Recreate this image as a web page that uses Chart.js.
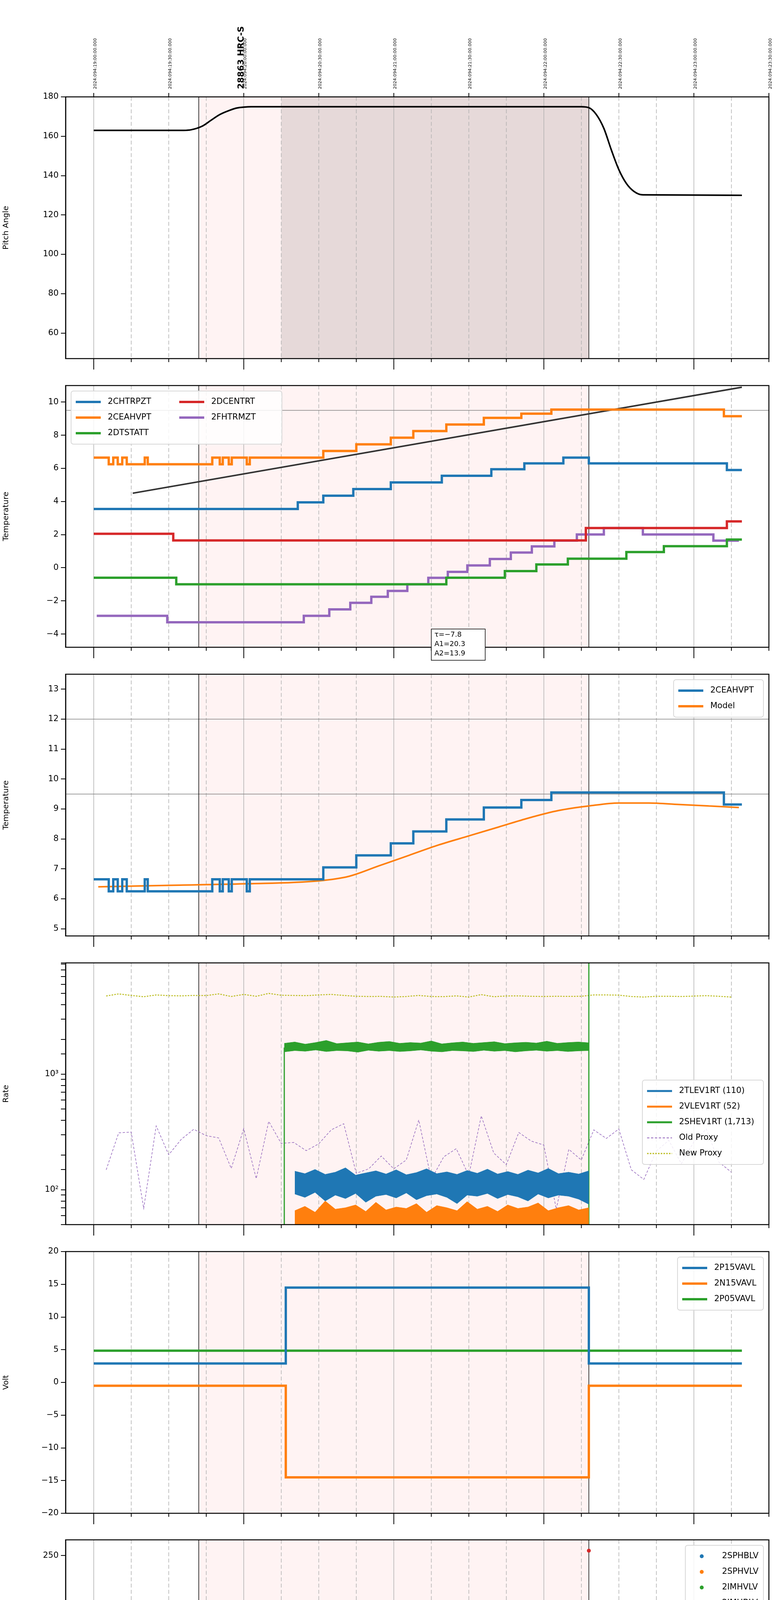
<!DOCTYPE html>
<html>
<head>
<meta charset="utf-8">
<script src="https://cdn.jsdelivr.net/npm/chart.js@4.4.0/dist/chart.umd.min.js"></script>
<style>
body { margin:0; background:#fff; width:2000px; height:6200px; position:relative; overflow:hidden; }
canvas { position:absolute; left:0; }
</style>
</head>
<body>
<script>
// ---- data (time in decimal hours, local) ----
var pitchT = [15.0, 15.6, 15.65, 15.72, 15.78, 15.84, 15.9, 15.95, 16.0, 16.05, 18.25, 18.3, 18.35, 18.4, 18.45, 18.5, 18.55, 18.6, 18.66, 19.32];
var pitchV = [163, 163, 163.3, 165, 168, 171, 173, 174.3, 174.8, 175, 175, 174.5, 171, 164, 153, 143, 136, 132, 130.2, 130];

var chtrT = [15.0, 16.36, 16.53, 16.73, 16.98, 17.32, 17.65, 17.87, 18.13, 18.3, 19.22, 19.32];
var chtrV = [3.55, 3.95, 4.35, 4.75, 5.15, 5.55, 5.95, 6.3, 6.65, 6.3, 5.9, 5.9];
var ceaT = [15.0, 15.10, 15.13, 15.16, 15.19, 15.22, 15.34, 15.36, 15.79, 15.84, 15.86, 15.90, 15.92, 16.02, 16.04, 16.53, 16.75, 16.98, 17.13, 17.35, 17.6, 17.85, 18.05, 19.2, 19.32];
var ceaV = [6.65, 6.25, 6.65, 6.25, 6.65, 6.25, 6.65, 6.25, 6.65, 6.25, 6.65, 6.25, 6.65, 6.25, 6.65, 7.05, 7.45, 7.85, 8.25, 8.65, 9.05, 9.3, 9.55, 9.15, 9.15];
var dtsT = [15.0, 15.55, 17.35, 17.74, 17.95, 18.16, 18.55, 18.8, 19.22, 19.32];
var dtsV = [-0.6, -1.0, -0.6, -0.2, 0.2, 0.55, 0.95, 1.3, 1.7, 1.7];
var dcenT = [15.0, 15.53, 18.28, 19.22, 19.32];
var dcenV = [2.05, 1.65, 2.4, 2.8, 2.8];
var fhT = [15.02, 15.49, 16.40, 16.57, 16.71, 16.85, 16.96, 17.09, 17.23, 17.36, 17.49, 17.64, 17.78, 17.92, 18.07, 18.22, 18.40, 18.66, 19.13, 19.30];
var fhV = [-2.9, -3.29, -2.9, -2.51, -2.12, -1.75, -1.4, -1.0, -0.61, -0.25, 0.14, 0.53, 0.92, 1.29, 1.64, 2.01, 2.4, 2.01, 1.64, 1.64];
var fitT = [15.26, 19.32];
var fitV = [4.5, 10.9];

var modelT = [15.03, 15.5, 16.0, 16.5, 16.7, 16.9, 17.1, 17.3, 17.5, 17.7, 17.9, 18.1, 18.3, 18.5, 18.7, 18.9, 19.1, 19.3];
var modelV = [6.4, 6.45, 6.5, 6.6, 6.75, 7.1, 7.45, 7.8, 8.1, 8.4, 8.7, 8.95, 9.1, 9.2, 9.2, 9.15, 9.1, 9.05];

var proxyT0 = 15.083, proxyStep = 5 / 60;
var oldProxy = [149, 311, 316, 69, 357, 201, 273, 334, 294, 281, 153, 338, 125, 391, 252, 257, 218, 250, 330, 373,
  139, 152, 196, 152, 181, 402, 123, 193, 227, 133, 436, 208, 165, 313, 264, 244, 68, 224, 181, 330,
  278, 336, 149, 123, 216, 268, 168, 260, 336, 174, 142];
var newProxy = [4750, 4950, 4800, 4680, 4850, 4780, 4760, 4800, 4790, 4950, 4700, 4900, 4720, 5000, 4820, 4800, 4780, 4850, 4900, 4800,
  4720, 4700, 4710, 4650, 4700, 4800, 4700, 4690, 4760, 4650, 4880, 4680, 4750, 4760, 4720, 4700, 4720, 4710, 4720, 4850,
  4850, 4830, 4700, 4650, 4720, 4720, 4700, 4740, 4780, 4720, 4650];
var sheT = [16.27, 18.30];
var sheHi = [1850, 1900, 1820, 1880, 1960, 1840, 1870, 1900, 1830, 1890, 1920, 1850, 1880, 1860, 1940, 1830, 1870, 1900, 1850, 1880, 1910, 1840, 1870, 1890, 1860, 1930, 1850, 1880, 1900, 1870];
var sheLo = [1560, 1600, 1580, 1620, 1570, 1600, 1590, 1550, 1610, 1580, 1600, 1570, 1590, 1620, 1580, 1560, 1600, 1590, 1570, 1610, 1580, 1600, 1560, 1590, 1610, 1580, 1600, 1570, 1590, 1600];
var tleT = [16.34, 18.30];
var tleHi = [145, 138, 150, 136, 142, 155, 134, 140, 146, 137, 149, 135, 141, 152, 138, 143, 136, 147, 139, 151, 137, 144, 136, 148, 140, 153, 138, 142, 137, 146];
var tleLo = [92, 86, 95, 80, 90, 84, 93, 78, 88, 91, 85, 94, 82, 89, 92, 86, 76, 90, 88, 93, 84, 91, 87, 80, 92, 85, 90, 88, 83, 75];
var vleHi = [66, 72, 64, 80, 68, 70, 74, 65, 78, 67, 71, 69, 76, 64, 73, 70, 66, 79, 68, 72, 65, 74, 69, 71, 77, 66, 70, 73, 67, 70];

var p15T = [15.0, 16.28, 18.30, 19.32];
var p15V = [2.9, 14.5, 2.9, 2.9];
var n15V = [-0.5, -14.5, -0.5, -0.5];
var p05T = [15.0, 19.32];
var p05V = [4.85, 4.85];

var hvBlueT = [16.295, 16.30, 16.305, 16.31, 16.315, 16.32, 18.30];
var hvBlueV = [117, 102, 97, 92, 87, 82, 77];
var hvOrangeT = [16.293, 16.30, 16.305, 16.31, 16.315, 16.32, 16.325, 16.86, 16.89, 17.30, 17.41];
var hvOrangeV = [127, 96, 91, 85, 80, 75, 71, 127, 127, 127, 127];
var hvFlatT = [16.32, 18.30];
var hvRedT = [18.30];
var hvRedV = [255];

var spinT = [16.28, 16.83, 17.74, 18.29];
var spinV = [2.67, 3.17, 3.61, 3.61];
var sphvT = [16.27, 16.39, 16.47, 16.55, 16.62, 16.70, 16.78, 16.86, 16.96, 17.06, 17.19, 17.33, 17.48, 17.63, 17.81, 18.0, 18.2, 18.29, 18.295];
var sphvV = [14.64, 15.03, 15.39, 15.69, 16.0, 16.36, 16.69, 17.06, 17.44, 17.75, 18.14, 18.5, 18.86, 19.19, 19.5, 19.92, 20.28, 0, 0];
var iminT = [16.28, 18.29];
var iminV = [1.72, 1.72];
var imhvT = [16.27, 16.68, 16.98, 17.24, 17.49, 17.72, 17.97, 18.21, 18.29];
var imhvV = [14.0, 14.33, 14.64, 15.0, 15.31, 15.67, 16.0, 16.39, 16.39];
// [start, end, low, high] for the dense toggling intervals
var blk7Orange = [[16.80, 16.96, 9.03, 17.0], [17.29, 17.42, 9.64, 18.4]];
var blk7Red = [[16.80, 16.96, 14.33, 17.14], [17.29, 17.42, 14.9, 18.53], [18.295, 18.32, 0, 21]];
var blk7Blue = [[16.85, 16.96, 0, 3.17], [17.29, 17.42, 0, 3.17]];
var blk7Green = [[16.85, 16.96, 0, 3.2], [17.29, 17.42, 0, 3.2]];

var fradT = [15.84, 16.45, 16.57, 16.71, 16.83, 16.96, 17.09, 17.24, 17.39, 17.52, 17.68, 17.83, 17.99, 18.15, 18.32, 18.68, 19.0, 19.30];
var fradV = [-4.81, -4.43, -4.05, -3.66, -3.29, -2.9, -2.51, -2.12, -1.76, -1.37, -1.0, -0.61, -0.25, 0.14, 0.53, 0.14, -0.25, -0.25];
var fepT = [16.27, 16.34, 16.38, 16.44, 16.51, 16.59, 16.71, 16.83, 16.95, 17.07, 17.22, 17.36, 17.51, 17.67, 17.84, 18.01, 18.19, 18.29, 18.295];
var fepV = [-3.99, -3.51, -3.11, -2.66, -1.82, -1.4, -0.98, -0.55, -0.1, 0.37, 0.81, 1.27, 1.72, 2.2, 2.66, 3.17, 3.63, -6, -6];
var fe00T = [16.27, 16.41, 16.51, 16.61, 16.69, 16.78, 16.96, 17.06, 17.16, 17.26, 17.36, 17.47, 17.57, 17.69, 17.80, 17.91, 18.03, 18.14, 18.26, 18.29];
var fe00V = [-3.99, -3.65, -3.29, -2.99, -2.63, -2.33, -1.64, -1.34, -0.95, -0.61, -0.31, 0.01, 0.35, 0.65, 0.99, 1.31, 1.61, 1.98, 2.28, 2.28];
var blk8Red = [[16.80, 16.96, -6, 4], [17.29, 17.42, -6, 4], [18.295, 18.32, -6, 4]];
var blk8Green = [[16.85, 16.96, -6, -0.1], [17.29, 17.42, -6, 0.81]];

// tick values per panel
var ticksPitch = [60, 80, 100, 120, 140, 160, 180];
var ticksTemp = [-4, -2, 0, 2, 4, 6, 8, 10];
var ticksCea = [5, 6, 7, 8, 9, 10, 11, 12, 13];
var ticksVolt = [-20, -15, -10, -5, 0, 5, 10, 15, 20];
var ticksHv = [0, 50, 100, 150, 200, 250];
var ticksDet = [2.5, 5, 7.5, 10, 12.5, 15, 17.5, 20];
var ticksFea = [-5, -4, -3, -2, -1, 0, 1, 2, 3];

// ---- layout / helpers ----
var XMIN = 14.8125, XMAX = 19.5;
var PANEL_TOP = [248, 987, 1726, 2465, 3204, 3942, 4681, 5420];
var PLOT_H = 670;
var C = {blue:'#1f77b4', orange:'#ff7f0e', green:'#2ca02c', red:'#d62728', purple:'#9467bd', olive:'#bcbd22'};
var FONT = 'DejaVu Sans';

function pts(t, v) { return t.map(function (x, i) { return {x: x, y: v[i]}; }); }
function spread(t0, t1, v) {
  return v.map(function (y, i) { return {x: t0 + (t1 - t0) * i / (v.length - 1), y: y}; });
}
function proxyPts(v) { return v.map(function (y, i) { return {x: proxyT0 + proxyStep * i, y: y}; }); }
function step(t, v, color, w) {
  return {data: pts(t, v), borderColor: color, borderWidth: w || 6, stepped: true, pointRadius: 0, fill: false};
}
function blocks(list, color) {
  return list.map(function (b) {
    return {data: [{x: b[0], y: b[3]}, {x: b[1], y: b[3]}], borderColor: color, borderWidth: 0,
      backgroundColor: color, pointRadius: 0, fill: {target: {value: b[2]}}};
  });
}
function minus(v) { return String(v).replace('-', '\u2212'); }

var framePlugin = {
  id: 'frame',
  beforeDatasetsDraw: function (chart, args, o) {
    var ctx = chart.ctx, a = chart.chartArea, xs = chart.scales.x, ys = chart.scales.y;
    ctx.save();
    ctx.beginPath(); ctx.rect(a.left, a.top, a.right - a.left, a.bottom - a.top); ctx.clip();
    (o.shade || []).forEach(function (s) {
      ctx.fillStyle = s[2];
      var x0 = xs.getPixelForValue(s[0]), x1 = xs.getPixelForValue(s[1]);
      ctx.fillRect(x0, a.top, x1 - x0, a.bottom - a.top);
    });
    for (var m = 15 * 60; m <= 19.5 * 60; m += 15) {
      var x = xs.getPixelForValue(m / 60);
      ctx.beginPath();
      ctx.strokeStyle = '#b0b0b0';
      ctx.lineWidth = 1.5;
      ctx.setLineDash(m % 60 === 0 ? [] : [10, 6]);
      ctx.moveTo(x, a.top); ctx.lineTo(x, a.bottom); ctx.stroke();
    }
    ctx.setLineDash([]);
    (o.hlines || []).forEach(function (h) {
      var y = ys.getPixelForValue(h);
      ctx.beginPath(); ctx.strokeStyle = '#808080'; ctx.lineWidth = 1.5;
      ctx.moveTo(a.left, y); ctx.lineTo(a.right, y); ctx.stroke();
    });
    [15.70, 18.30].forEach(function (t) {
      var x = xs.getPixelForValue(t);
      ctx.beginPath(); ctx.strokeStyle = '#000'; ctx.lineWidth = 1.5;
      ctx.moveTo(x, a.top); ctx.lineTo(x, a.bottom); ctx.stroke();
    });
    ctx.restore();
  },
  afterDatasetsDraw: function (chart, args, o) {
    var ctx = chart.ctx, a = chart.chartArea, xs = chart.scales.x;
    ctx.save();
    ctx.strokeStyle = '#000'; ctx.lineWidth = 2.5;
    ctx.strokeRect(a.left, a.top, a.right - a.left, a.bottom - a.top);
    // x ticks
    for (var m = 15 * 60; m <= 19.5 * 60; m += 15) {
      var x = xs.getPixelForValue(m / 60), major = m % 60 === 0;
      ctx.beginPath(); ctx.lineWidth = 2;
      ctx.moveTo(x, a.bottom); ctx.lineTo(x, a.bottom + (major ? 28 : 9)); ctx.stroke();
      if (o.xLabels) {
        ctx.fillStyle = '#000'; ctx.textAlign = 'center'; ctx.textBaseline = 'middle';
        if (major) {
          ctx.font = '22px ' + FONT;
          ctx.fillText((m / 60) + 'h', x, a.bottom + 48);
        } else {
          ctx.font = '12px ' + FONT;
          ctx.fillText(String(m % 60), x, a.bottom + 16);
        }
      }
    }
    if (o.xLabels) {
      ctx.font = '24px ' + FONT; ctx.textAlign = 'center';
      ctx.fillText('2024-04-03 (094)', (a.left + a.right) / 2, a.bottom + 86);
    }
    if (o.topLabels) {
      for (var m2 = 15 * 60; m2 <= 19.5 * 60; m2 += 30) {
        var xt = xs.getPixelForValue(m2 / 60);
        ctx.beginPath(); ctx.lineWidth = 2;
        ctx.moveTo(xt, a.top); ctx.lineTo(xt, a.top - 10); ctx.stroke();
        var hh = Math.floor(m2 / 60) + 4, mm = m2 % 60;
        var lbl = '2024:094:' + hh + ':' + (mm ? '30' : '00') + ':00.000';
        ctx.save();
        ctx.translate(xt + 4, a.top - 20); ctx.rotate(-Math.PI / 2);
        ctx.font = '11px ' + FONT; ctx.fillStyle = '#000'; ctx.textAlign = 'left'; ctx.textBaseline = 'middle';
        ctx.fillText(lbl, 0, 0);
        ctx.restore();
      }
      var xb = xs.getPixelForValue(15.985);
      ctx.save();
      ctx.translate(xb, a.top - 20); ctx.rotate(-Math.PI / 2);
      ctx.font = 'bold 22px ' + FONT; ctx.fillStyle = '#000'; ctx.textAlign = 'left'; ctx.textBaseline = 'middle';
      ctx.fillText('28863 HRC-S', 0, 0);
      ctx.restore();
    }
    if (o.note) {
      var n = o.note;
      ctx.font = '18px ' + FONT; ctx.textAlign = 'left'; ctx.textBaseline = 'top';
      var nx = xs.getPixelForValue(n.t), ny = chart.scales.y.getPixelForValue(n.y);
      ctx.fillStyle = '#fff'; ctx.fillRect(nx, ny, 138, 80);
      ctx.lineWidth = 1.5; ctx.strokeRect(nx, ny, 138, 80);
      ctx.fillStyle = '#000';
      n.lines.forEach(function (l, i) { ctx.fillText(l, nx + 8, ny + 6 + i * 24); });
    }
    if (o.legend) drawLegend(ctx, a, o.legend);
    ctx.restore();
  }
};

function drawLegend(ctx, a, L) {
  var rowH = 40, colW = L.colW || 260, rows = Math.ceil(L.items.length / (L.cols || 1));
  var w = colW * (L.cols || 1) + 10, h = rows * rowH + 16;
  var x0 = L.side === 'left' ? a.left + 14 : a.right - w - 14;
  var y0 = a.top + (L.y != null ? L.y : 14);
  ctx.fillStyle = 'rgba(255,255,255,0.85)';
  ctx.strokeStyle = '#d8d8d8'; ctx.lineWidth = 2;
  ctx.beginPath(); ctx.roundRect(x0, y0, w, h, 6); ctx.fill(); ctx.stroke();
  ctx.font = '21px ' + FONT; ctx.textBaseline = 'middle'; ctx.textAlign = 'left';
  L.items.forEach(function (it, i) {
    var col = Math.floor(i / rows), row = i % rows;
    var x = x0 + 12 + col * colW, y = y0 + 8 + rowH / 2 + row * rowH;
    ctx.strokeStyle = it.c; ctx.fillStyle = it.c;
    if (it.dot) {
      ctx.beginPath(); ctx.arc(x + 30, y, 5, 0, Math.PI * 2); ctx.fill();
    } else {
      ctx.beginPath(); ctx.lineWidth = it.w || 6; ctx.setLineDash(it.dash || []);
      ctx.moveTo(x, y); ctx.lineTo(x + 64, y); ctx.stroke(); ctx.setLineDash([]);
    }
    ctx.fillStyle = '#000';
    ctx.fillText(it.label, x + 82, y);
  });
}

function makePanel(i, datasets, y, frame) {
  var last = i === PANEL_TOP.length - 1;
  var padTop = i === 0 ? PANEL_TOP[0] : 20;
  var padBottom = last ? 120 : 40;
  var cv = document.createElement('canvas');
  cv.width = 2000; cv.height = padTop + PLOT_H + padBottom;
  cv.style.top = (PANEL_TOP[i] - padTop) + 'px';
  document.body.appendChild(cv);
  frame.xLabels = last;
  var yScale = {
    type: y.type || 'linear', min: y.min, max: y.max,
    afterFit: function (s) { s.width = 168; },
    title: {display: true, text: y.title, color: '#000', font: {family: FONT, size: 20}},
    border: {color: '#000', width: 2.5},
    grid: {drawOnChartArea: false, color: '#000', lineWidth: 2, tickLength: 12},
    ticks: {color: '#000', font: {family: FONT, size: 21}, padding: 6, autoSkip: false,
      callback: y.cb || function (v) { return minus(v); }}
  };
  if (y.ticks) {
    var tv = y.ticks;
    yScale.afterBuildTicks = function (s) { s.ticks = tv.map(function (v) { return {value: v}; }); };
  }
  new Chart(cv, {
    type: 'line',
    data: {datasets: datasets},
    options: {
      responsive: false, animation: false, devicePixelRatio: 1,
      layout: {padding: {left: 0, right: 31, top: padTop, bottom: padBottom}},
      scales: {x: {type: 'linear', min: XMIN, max: XMAX, display: false}, y: yScale},
      plugins: {legend: {display: false}, tooltip: {enabled: false}, frame: frame}
    },
    plugins: [framePlugin]
  });
}

var PINK = 'rgba(255,200,200,0.22)';
var SHADE = [[15.70, 18.30, PINK]];

// 1 pitch
makePanel(0, [
  {data: pts(pitchT, pitchV), borderColor: '#000', borderWidth: 4, pointRadius: 0, tension: 0.4, cubicInterpolationMode: 'monotone'}
], {min: 47, max: 180, ticks: ticksPitch, title: 'Pitch Angle'},
  {shade: [[15.70, 16.25, PINK], [16.25, 18.30, '#e6d9d9']], topLabels: true});

// 2 temperatures
makePanel(1, [
  step(chtrT, chtrV, C.blue), step(ceaT, ceaV, C.orange), step(dtsT, dtsV, C.green),
  step(dcenT, dcenV, C.red), step(fhT, fhV, C.purple),
  {data: pts(fitT, fitV), borderColor: '#333', borderWidth: 4, pointRadius: 0}
], {min: -4.8, max: 11, ticks: ticksTemp, title: 'Temperature'},
  {shade: SHADE, hlines: [9.5], note: {t: 17.25, y: -3.7, lines: ['\u03c4=\u22127.8', 'A1=20.3', 'A2=13.9']},
   legend: {side: 'left', cols: 2, colW: 265, items: [
     {label: '2CHTRPZT', c: C.blue}, {label: '2CEAHVPT', c: C.orange}, {label: '2DTSTATT', c: C.green},
     {label: '2DCENTRT', c: C.red}, {label: '2FHTRMZT', c: C.purple}]}});

// 3 CEA vs model
makePanel(2, [
  step(ceaT, ceaV, C.blue),
  {data: pts(modelT, modelV), borderColor: C.orange, borderWidth: 4, pointRadius: 0, tension: 0.4, cubicInterpolationMode: 'monotone'}
], {min: 4.76, max: 13.5, ticks: ticksCea, title: 'Temperature'},
  {shade: SHADE, hlines: [12, 9.5],
   legend: {side: 'right', colW: 220, items: [{label: '2CEAHVPT', c: C.blue}, {label: 'Model', c: C.orange}]}});

// 4 rates (log)
makePanel(3, [
  {data: spread(sheT[0], sheT[1], sheLo), borderColor: C.green, borderWidth: 1, pointRadius: 0},
  {data: spread(sheT[0], sheT[1], sheHi), borderColor: C.green, borderWidth: 1, pointRadius: 0, backgroundColor: C.green, fill: '-1'},
  {data: spread(tleT[0], tleT[1], tleLo), borderColor: C.blue, borderWidth: 1, pointRadius: 0},
  {data: spread(tleT[0], tleT[1], tleHi), borderColor: C.blue, borderWidth: 1, pointRadius: 0, backgroundColor: C.blue, fill: '-1'},
  {data: spread(tleT[0], tleT[1], vleHi), borderColor: C.orange, borderWidth: 1, pointRadius: 0, backgroundColor: C.orange, fill: 'start'},
  {data: [{x: sheT[0], y: 50}, {x: sheT[0], y: 1700}], borderColor: C.green, borderWidth: 3, pointRadius: 0},
  {data: [{x: sheT[1], y: 50}, {x: sheT[1], y: 9180}], borderColor: C.green, borderWidth: 3, pointRadius: 0},
  {data: proxyPts(oldProxy), borderColor: C.purple, borderWidth: 1.5, borderDash: [6, 4], pointRadius: 0},
  {data: proxyPts(newProxy), borderColor: C.olive, borderWidth: 2.5, borderDash: [4, 3], pointRadius: 0}
], {type: 'logarithmic', min: 50, max: 9180, title: 'Rate',
    cb: function (v) { return v === 100 ? '10\u00b2' : v === 1000 ? '10\u00b3' : ''; }},
  {shade: SHADE,
   legend: {side: 'right', colW: 300, y: 300, items: [
     {label: '2TLEV1RT (110)', c: C.blue, w: 5}, {label: '2VLEV1RT (52)', c: C.orange, w: 5},
     {label: '2SHEV1RT (1,713)', c: C.green, w: 5}, {label: 'Old Proxy', c: C.purple, w: 2, dash: [6, 4]},
     {label: 'New Proxy', c: C.olive, w: 3, dash: [4, 3]}]}});

// 5 voltages
makePanel(4, [
  step(p15T, p15V, C.blue), step(p15T, n15V, C.orange), step(p05T, p05V, C.green)
], {min: -20, max: 20, ticks: ticksVolt, title: 'Volt'},
  {shade: SHADE, legend: {side: 'right', colW: 210, items: [
    {label: '2P15VAVL', c: C.blue}, {label: '2N15VAVL', c: C.orange}, {label: '2P05VAVL', c: C.green}]}});

// 6 HV monitor
makePanel(5, [
  {data: pts(hvFlatT, [77, 77]), borderColor: C.blue, borderWidth: 13, pointRadius: 0},
  {data: pts(hvFlatT, [71, 71]), borderColor: C.orange, borderWidth: 10, pointRadius: 0},
  {data: pts(hvBlueT, hvBlueV), showLine: false, pointRadius: 5, pointBackgroundColor: C.blue, pointBorderWidth: 0},
  {data: pts(hvOrangeT, hvOrangeV), showLine: false, pointRadius: 5, pointBackgroundColor: C.orange, pointBorderWidth: 0},
  {data: pts(hvRedT, hvRedV), showLine: false, pointRadius: 5, pointBackgroundColor: C.red, pointBorderWidth: 0}
], {min: 0, max: 266, ticks: ticksHv, title: 'HV Monitor'},
  {shade: SHADE, legend: {side: 'right', colW: 190, items: [
    {label: '2SPHBLV', c: C.blue, dot: true}, {label: '2SPHVLV', c: C.orange, dot: true},
    {label: '2IMHVLV', c: C.green, dot: true}, {label: '2IMHBLV', c: C.red, dot: true}]}});

// 7 detector temps
makePanel(6, [].concat(
  blocks(blk7Orange, C.orange), blocks(blk7Blue, C.blue), blocks(blk7Green, C.green),
  [step(spinT, spinV, C.blue), step(sphvT, sphvV, C.orange), step(iminT, iminV, C.green), step(imhvT, imhvV, C.red)],
  blocks(blk7Red, C.red)
), {min: 0.2, max: 20.7, ticks: ticksDet, title: 'Detector Temp', cb: function (v) { return v.toFixed(1); }},
  {shade: SHADE, legend: {side: 'right', colW: 210, items: [
    {label: '2SPINATM', c: C.blue}, {label: '2SPHVATM', c: C.orange},
    {label: '2IMINATM', c: C.green}, {label: '2IMHVATM', c: C.red}]}});

// 8 FEA temps
makePanel(7, [].concat(
  blocks(blk8Green, C.green),
  [step(fhT, fhV, C.blue), step(fradT, fradV, C.orange), step(fepT, fepV, C.green), step(fe00T, fe00V, C.red)],
  blocks(blk8Red, C.red)
), {min: -5.19, max: 3.69, ticks: ticksFea, title: 'FEA Temp'},
  {shade: SHADE, legend: {side: 'left', colW: 210, items: [
    {label: '2FHTRMZT', c: C.blue}, {label: '2FRADPYT', c: C.orange},
    {label: '2FEPRATM', c: C.green}, {label: '2FE00ATM', c: C.red}]}});
</script>
</body>
</html>
